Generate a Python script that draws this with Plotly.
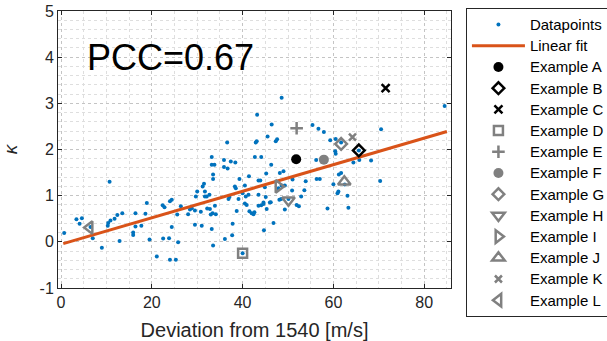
import plotly.graph_objects as go

# ---------------- data ----------------
data_x = [0.7, 3.4, 4.6, 4.1, 6.5, 7.0, 9.0, 10.7, 10.4, 10.3, 10.9, 11.8, 12.4, 13.5, 12.9,
          16.4, 16.4, 15.9, 15.9, 17.7, 18.9, 18.6, 19.5,
          21.1, 22.4, 22.8, 22.5, 23.8, 24.0, 24.4, 24.4, 24.0, 25.3, 25.8, 25.6, 26.4, 28.0,
          28.4, 28.8, 29.5, 29.7, 30.0, 29.5,
          31.0, 30.8, 31.2, 31.5, 31.7, 32.1, 32.7, 31.7, 32.2, 32.8, 33.2, 33.2, 33.8, 33.5,
          33.5, 33.4, 33.0, 33.9, 34.1, 33.2, 33.5, 36.6, 35.9, 35.9, 36.7, 37.4, 38.4, 36.1,
          37.1, 36.9, 37.7, 37.8, 38.3, 38.5, 38.7, 39.3, 39.1, 40.0,
          40.5, 40.9, 40.7, 41.4, 41.5, 40.5, 41.3, 40.0, 48.6, 43.2, 46.4, 42.9, 43.1, 45.5,
          47.3, 47.6, 42.7, 44.1, 46.3, 43.5, 43.9, 45.2, 48.2, 49.0, 43.5, 44.9, 45.1, 46.0,
          48.1, 48.5, 48.6, 49.3, 43.5, 42.0, 42.4, 44.6, 46.8, 44.7, 49.3, 42.6, 44.1, 44.6,
          45.3, 46.2, 50.1, 47.9,
          51.0, 53.9, 56.3, 57.0, 55.4, 56.7, 57.9, 59.3, 51.9, 52.4, 53.6, 52.9, 56.2, 58.7,
          50.9,
          60.5, 60.4, 60.5, 61.7, 60.0, 61.1, 61.2, 62.5, 60.9, 63.1, 63.3, 65.6, 65.7, 64.4,
          68.3, 70.5, 70.3, 84.5, 61.7]
data_y = [0.19, 0.49, 0.51, 0.39, 0.32, 0.08, -0.13, 1.30, 0.41, 0.35, 0.46, 0.50, 0.58, 0.62, 0.02,
          0.62, 0.33, 0.20, 0.15, 0.35, 0.84, 0.61, 0.05,
          -0.32, 0.79, 0.75, 0.07, 0.08, 0.88, 0.91, 0.32, -0.39, -0.39, -0.01, 0.59, 0.77, 0.60,
          0.70, 0.73, 0.37, 0.98, 1.09, 0.68,
          0.35, 0.65, 1.20, 1.26, 0.98, 0.98, 1.02, 1.09, 0.72, 0.71, 1.84, 1.67, 1.67, 1.46,
          1.36, 0.62, 0.59, 0.78, 0.60, 0.28, -0.08, 2.15, 1.77, 1.62, 1.59, 1.74, 1.72, 0.06,
          0.97, 0.93, 0.14, 0.39, 1.20, 1.16, 0.67, 1.36, 0.93, 1.05,
          0.83, 0.80, 0.98, 1.42, 0.66, 1.22, 1.02, -0.25, 3.12, 2.75, 2.54, 2.15, 2.18, 2.28,
          2.18, 2.22, 1.84, 1.84, 1.67, 1.33, 1.33, 1.48, 1.49, 1.53, 1.02, 1.18, 0.97, 0.85,
          0.91, 0.93, 1.22, 1.22, 0.78, 0.62, 0.60, 0.85, 0.41, 0.25, 0.70, 0.64, 0.79, 0.82,
          0.71, 0.86, 0.93, 1.16,
          1.35, 1.31, 1.36, 1.36, 2.53, 2.45, 2.38, 2.20, 0.80, 0.77, 1.12, 0.98, 1.77, 0.72,
          1.11,
          2.23, 1.96, 1.91, 2.15, 1.25, 1.09, 1.46, 1.24, 1.05, 1.00, 0.74, 1.98, 1.77, 1.72,
          1.76, 2.44, 1.32, 2.94, 1.49]

fit_x = [0.5, 85.0]
fit_y = [-0.04, 2.39]

ex_names = ["Example A", "Example B", "Example C", "Example D", "Example E", "Example F",
            "Example G", "Example H", "Example I", "Example J", "Example K", "Example L"]
ex_x = [51.8, 65.6, 71.5, 40.0, 51.9, 57.9, 61.7, 50.1, 47.9, 62.4, 64.2, 6.3]
ex_y = [1.79, 1.98, 3.33, -0.25, 2.46, 1.78, 2.12, 0.90, 1.20, 1.30, 2.27, 0.31]

x_tickvals = [0, 20, 40, 60, 80]
x_ticktext = ["0", "20", "40", "60", "80"]
y_tickvals = [-1, 0, 1, 2, 3, 4, 5]
y_ticktext = ["-1", "0", "1", "2", "3", "4", "5"]

pcc_text = "PCC=0.67"
x_title = "Deviation from 1540 [m/s]"
y_title = "<i>κ</i>"

# ---------------- styles ----------------
BLACK = "#000000"
GRAY = "#808080"
ex_styles = [
    dict(symbol="circle", color=BLACK, size=10, open=False),
    dict(symbol="diamond-open", color=BLACK, size=9, open=True),
    dict(symbol="x-thin", color=BLACK, size=8, open=True),
    dict(symbol="square-open", color=GRAY, size=9, open=True),
    dict(symbol="cross-thin", color=GRAY, size=9, open=True),
    dict(symbol="circle", color=GRAY, size=10, open=False),
    dict(symbol="diamond-open", color=GRAY, size=9, open=True),
    dict(symbol="triangle-down-open", color=GRAY, size=11, open=True),
    dict(symbol="triangle-right-open", color=GRAY, size=11, open=True),
    dict(symbol="triangle-up-open", color=GRAY, size=11, open=True),
    dict(symbol="x-thin", color=GRAY, size=7, open=True),
    dict(symbol="triangle-left-open", color=GRAY, size=11, open=True),
]


def legend_label(s):
    return '<span style="font-size:15px">' + s + '</span>'


fig = go.Figure()

fig.add_trace(go.Scatter(x=data_x, y=data_y, mode="markers", name=legend_label("Datapoints"),
                         marker=dict(color="#0072BD", size=4, line=dict(width=0))))
fig.add_trace(go.Scatter(x=fit_x, y=fit_y, mode="lines", name=legend_label("Linear fit"),
                         line=dict(color="#D95319", width=3)))

for name, x, y, st in zip(ex_names, ex_x, ex_y, ex_styles):
    if st["open"]:
        marker = dict(symbol=st["symbol"], size=st["size"], color=st["color"],
                      line=dict(color=st["color"], width=2.5))
    else:
        marker = dict(symbol=st["symbol"], size=st["size"], color=st["color"],
                      line=dict(width=0))
    fig.add_trace(go.Scatter(x=[x], y=[y], mode="markers", name=legend_label(name),
                             marker=marker))

AX = "#262626"
FONT = "Arial, Liberation Sans, sans-serif"

fig.add_annotation(x=5.3, y=4.0, xref="x", yref="y", text=pcc_text, showarrow=False,
                   xanchor="left", yanchor="middle",
                   font=dict(size=36, color=BLACK, family=FONT))

fig.update_layout(
    width=607, height=341,
    margin=dict(l=58, r=156, t=11, b=53, autoexpand=False),
    paper_bgcolor="white", plot_bgcolor="white",
    font=dict(family=FONT, color=AX),
    showlegend=True,
    legend=dict(x=1.038, y=1.0108, xanchor="left", yanchor="top",
                bordercolor=AX, borderwidth=1, bgcolor="white",
                font=dict(size=14, color=BLACK, family=FONT),
                itemwidth=53, tracegroupgap=0, maxheight=335),
)

fig.update_xaxes(range=[-0.66, 85.9], tickvals=x_tickvals, ticktext=x_ticktext,
                 ticks="inside", ticklen=4, tickcolor=AX, mirror="ticks",
                 showline=True, linecolor=AX, linewidth=1,
                 tickfont=dict(size=16, color=AX),
                 showgrid=True, gridcolor="#c4c4c4", griddash="dot", gridwidth=1,
                 minor=dict(dtick=5, tick0=0, showgrid=True, gridcolor="#dedede",
                            griddash="dot", gridwidth=1, ticks=""),
                 zeroline=False,
                 title=dict(text=x_title, font=dict(size=20, color=AX), standoff=17))
fig.update_yaxes(range=[-1, 5], tickvals=y_tickvals, ticktext=y_ticktext,
                 ticks="inside", ticklen=4, tickcolor=AX, mirror="ticks",
                 showline=True, linecolor=AX, linewidth=1,
                 tickfont=dict(size=16, color=AX),
                 showgrid=True, gridcolor="#c4c4c4", griddash="dot", gridwidth=1,
                 minor=dict(dtick=0.2, tick0=0, showgrid=True, gridcolor="#dedede",
                            griddash="dot", gridwidth=1, ticks=""),
                 zeroline=False,
                 title=dict(text=y_title, font=dict(size=19, color=AX), standoff=16))

# remove the browser's default 8px page margin so the figure sits at the window origin
fig.write_html("out.html", config={"displayModeBar": False},
               post_script="document.body.style.margin='0px';")
